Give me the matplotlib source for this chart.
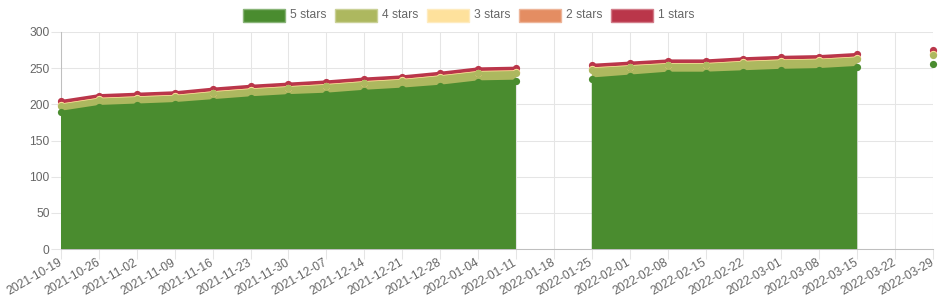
import numpy as np
import matplotlib
matplotlib.use("Agg")
import matplotlib.pyplot as plt
from matplotlib.patches import Rectangle
import matplotlib.colors as mcolors

nan = np.nan

dates = ["2021-10-19", "2021-10-26", "2021-11-02", "2021-11-09", "2021-11-16",
         "2021-11-23", "2021-11-30", "2021-12-07", "2021-12-14", "2021-12-21",
         "2021-12-28", "2022-01-04", "2022-01-11", "2022-01-18", "2022-01-25",
         "2022-02-01", "2022-02-08", "2022-02-15", "2022-02-22", "2022-03-01",
         "2022-03-08", "2022-03-15", "2022-03-22", "2022-03-29"]

labels = ["5 stars", "4 stars", "3 stars", "2 stars", "1 stars"]
colors = ["#4a8c2f", "#adb85f", "#fee19c", "#e48d62", "#ba364a"]

stars5 = [189, 197, 199, 201, 205, 209, 212, 214, 218, 221, 225, 231, 232, nan,
          235, 239, 243, 243, 245, 247, 248, 251, nan, 256]
stars4 = [9, 9, 9, 9, 10, 10, 10, 11, 11, 11, 12, 12, 12, nan,
          13, 12, 11, 11, 12, 12, 12, 12, nan, 12]
stars3 = [1, 1, 1, 1, 1, 1, 1, 1, 1, 1, 1, 1, 1, nan,
          1, 1, 1, 1, 1, 1, 1, 1, nan, 1]
stars2 = [0, 0, 0, 0, 0, 0, 0, 0, 0, 0, 0, 0, 0, nan,
          0, 0, 0, 0, 0, 0, 0, 0, nan, 0]
stars1 = [5, 5, 5, 5, 5, 5, 5, 5, 5, 5, 5, 5, 5, nan,
          5, 5, 5, 5, 5, 5, 5, 5, nan, 6]

series = [stars5, stars4, stars3, stars2, stars1]

plt.rcParams["font.family"] = ["Liberation Sans", "DejaVu Sans"]
TXT = "#666666"
FS = 8.64  # 12px

W, H = 940, 300
fig = plt.figure(figsize=(W / 100, H / 100), dpi=100)
ax = fig.add_axes([61 / W, 51 / H, 872 / W, 217 / H])

x = np.arange(len(dates))
bottom = np.zeros(len(dates))
tops = []
for s in series:
    arr = np.array(s, dtype=float)
    top = bottom + arr
    tops.append((bottom.copy(), top.copy()))
    bottom = top

# fills
for i, (lo, hi) in enumerate(tops):
    ax.fill_between(x, lo, hi, color=colors[i], linewidth=0, zorder=1 + (4 - i) * 0.01)

# lines and points (first dataset on top, like Chart.js)
for i, (lo, hi) in enumerate(tops):
    ax.plot(x, hi, color=colors[i], linewidth=2.2, marker="o", markersize=5.2,
            markeredgewidth=0, zorder=2 + (4 - i) * 0.1, solid_joinstyle="round",
            clip_on=False)

ax.set_xlim(0, len(dates) - 1)
ax.set_ylim(0, 300)
ax.set_yticks(np.arange(0, 301, 50))
ax.set_xticks(x)
ax.set_xticklabels(dates, rotation=30, ha="right", va="center", rotation_mode="anchor")

ax.set_axisbelow(True)
ax.grid(True, color="#e5e5e5", linewidth=0.75)
for side in ["top", "right"]:
    ax.spines[side].set_visible(False)
for side in ["left", "bottom"]:
    ax.spines[side].set_color("#bfbfbf")
    ax.spines[side].set_linewidth(0.75)
    ax.spines[side].set_zorder(0.6)

ax.tick_params(axis="both", colors="#e5e5e5", labelcolor=TXT, labelsize=FS,
               length=7.2, width=0.75)
ax.tick_params(axis="y", pad=1)
ax.tick_params(axis="x", pad=2)

# legend
step = 92
x0 = 243
for i, lab in enumerate(labels):
    bx = x0 + i * step
    edge = mcolors.to_rgb(colors[i])
    edge = tuple(c + (1 - c) * 0.35 for c in edge)
    rect = Rectangle((bx / W, 1 - 22 / H), 42 / W, 13 / H, transform=fig.transFigure,
                     facecolor=colors[i], edgecolor=edge, linewidth=1.0)
    fig.add_artist(rect)
    fig.text((bx + 47) / W, 1 - 15.5 / H, lab, color=TXT, fontsize=FS,
             ha="left", va="center")

fig.savefig("out.png", dpi=100)
